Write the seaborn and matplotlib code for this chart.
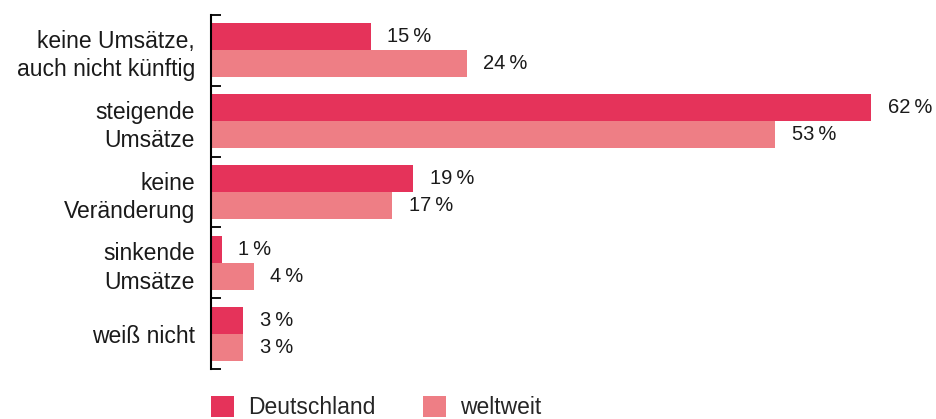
import matplotlib
matplotlib.use("Agg")
import matplotlib.pyplot as plt
import seaborn as sns
import pandas as pd
from matplotlib.patches import Patch

# categories and values (in %)
categories = ["keine Umsätze,\nauch nicht künftig", "steigende\nUmsätze",
              "keine\nVeränderung", "sinkende\nUmsätze", "weiß nicht"]
deutschland = [15, 62, 19, 1, 3]
weltweit = [24, 53, 17, 4, 3]
series = ["Deutschland", "weltweit"]
colors = ["#E5335A", "#EE7E85"]

df = pd.DataFrame({
    "kategorie": categories * 2,
    "wert": deutschland + weltweit,
    "gruppe": [series[0]] * 5 + [series[1]] * 5,
})

sns.set_style("white")
plt.rcParams["font.family"] = ["Liberation Sans", "DejaVu Sans"]

fig = plt.figure(figsize=(9.36, 4.19), dpi=100)
ax = fig.add_axes([211 / 936, 1 - 369 / 419, 724 / 936, 354 / 419])

sns.barplot(data=df, y="kategorie", x="wert", hue="gruppe", order=categories,
            hue_order=series, palette=colors, width=0.765, ax=ax,
            orient="h", legend=False, saturation=1, linewidth=0)

for cont in ax.containers:
    ax.bar_label(cont, labels=[f"{v:g}\u2009%" for v in cont.datavalues],
                 padding=12, fontsize=14.5, color="#1a1a1a")

ax.set_xlim(0, 68)
ax.set_ylim(4.5, -0.5)
ax.set_xlabel("")
ax.set_ylabel("")
ax.set_xticks([])
ax.set_yticks(range(5))
ax.set_yticklabels(categories, ha="right", linespacing=1.3, color="#1a1a1a", fontsize=16.5)
ax.tick_params(axis="y", which="major", length=0, pad=11.5)
ax.set_yticks([i - 0.5 for i in range(6)], minor=True)
ax.tick_params(axis="y", which="minor", left=True, direction="in", length=7,
               width=1.3, color="black")
for s in ["top", "right", "bottom"]:
    ax.spines[s].set_visible(False)
ax.spines["left"].set_color("black")
ax.spines["left"].set_linewidth(1.5)

handles = [Patch(facecolor=c, edgecolor="none", label=s) for c, s in zip(colors, series)]
fig.legend(handles=handles, loc="upper left", bbox_to_anchor=(211 / 936, 1 - 396 / 419),
           ncol=2, frameon=False, handlelength=1.0, handleheight=1.0,
           handletextpad=0.6, columnspacing=2.1, fontsize=16.5, borderaxespad=0,
           borderpad=0)

fig.savefig("out.png", dpi=100)
